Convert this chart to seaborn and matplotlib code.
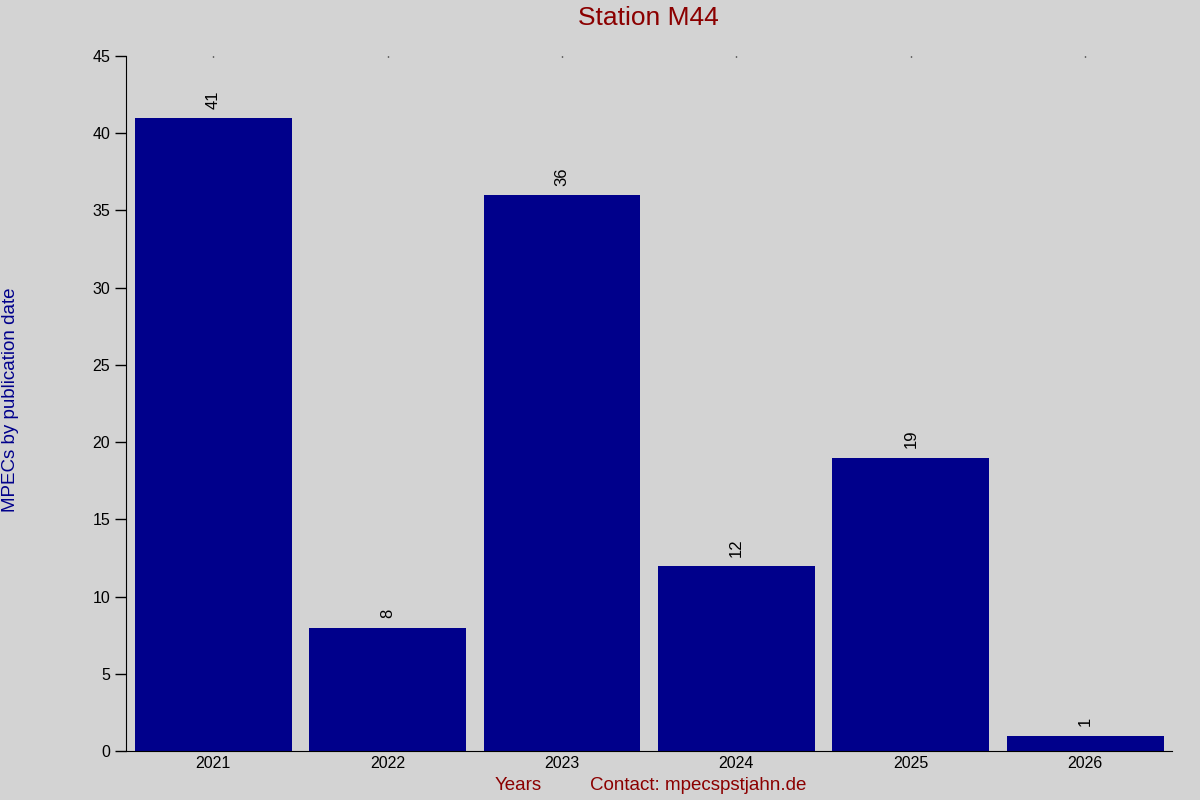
import matplotlib
matplotlib.use("Agg")
import matplotlib.pyplot as plt
import seaborn as sns
import pandas as pd

years = ['2021', '2022', '2023', '2024', '2025', '2026']
mpecs = [41, 8, 36, 12, 19, 1]

bg = '#d3d3d3'
bar_color = '#00008b'
red = '#8b0000'

sns.set_style('ticks')
plt.rcParams['font.family'] = ['Liberation Sans', 'DejaVu Sans']

df = pd.DataFrame({'year': years, 'count': mpecs})

fig = plt.figure(figsize=(12, 8), dpi=100, facecolor=bg)
ax = fig.add_axes([0.105, 0.061, 0.872, 0.869])
ax.set_facecolor(bg)

sns.barplot(data=df, x='year', y='count', color=bar_color, saturation=1,
            width=0.9, edgecolor='none', linewidth=0, ax=ax)

# value labels above bars
for i, v in enumerate(mpecs):
    ax.text(i, v + 0.6, str(v), rotation=90, ha='center', va='bottom',
            fontsize=12, color='black')

ax.set_xlim(-0.5, 5.5)
ax.set_ylim(0, 45)
ax.set_yticks(range(0, 46, 5))
ax.tick_params(axis='y', labelsize=11.5, length=8, width=1, color='black',
               labelcolor='black')
ax.tick_params(axis='x', labelsize=11.5, bottom=False, top=True, length=1,
               width=1, direction='in', color='black', labelcolor='black')

for side in ['top', 'right']:
    ax.spines[side].set_visible(False)
ax.spines['left'].set_color('black')
ax.spines['bottom'].set_color('black')
ax.spines['bottom'].set_bounds(-0.5, 5.5)

ax.set_xlabel('')
ax.set_ylabel('')

fig.text(0.54, 0.977, 'Station M44', ha='center', va='center',
         fontsize=19, color=red)
fig.text(0.009, 0.5, 'MPECs by publication date', rotation=90,
         ha='center', va='center', fontsize=13.5, color=bar_color)
fig.text(0.432, 0.018, 'Years', ha='center', va='center', fontsize=13.5, color=red)
fig.text(0.582, 0.018, 'Contact: mpecspstjahn.de', ha='center', va='center',
         fontsize=13.5, color=red)

fig.savefig('out.png', dpi=100, facecolor=bg)
